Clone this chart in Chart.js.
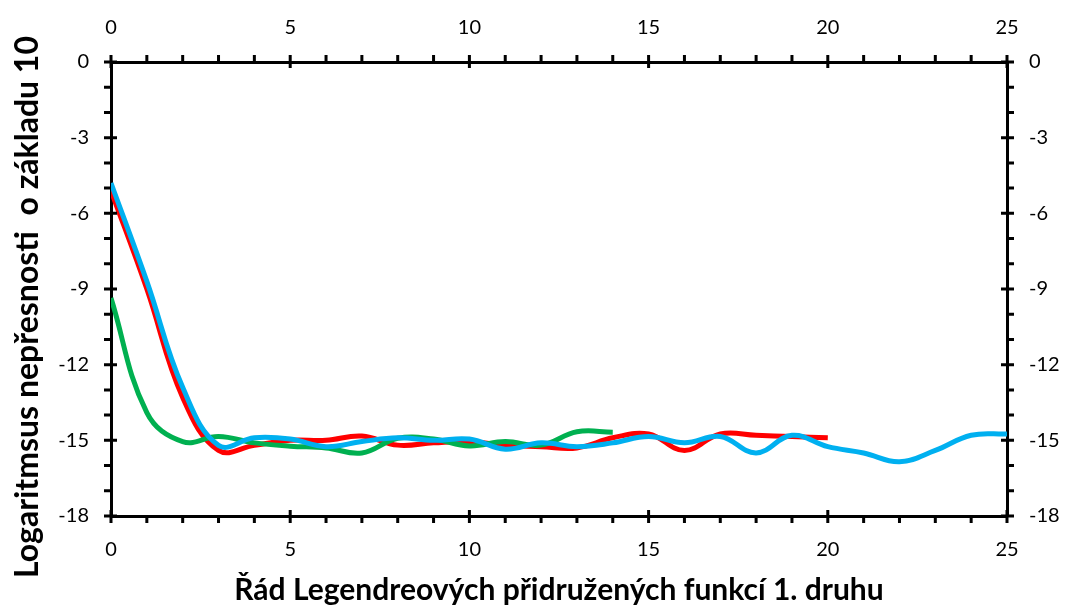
<!DOCTYPE html>
<html>
<head>
<meta charset="utf-8">
<script src="https://cdn.jsdelivr.net/npm/chart.js@4/dist/chart.umd.min.js"></script>
<style>
html,body{margin:0;padding:0;background:#fff;}
#wrap{position:relative;width:1070px;height:608px;}
</style>
</head>
<body>
<div id="wrap"><canvas id="c" width="1070" height="608"></canvas></div>
<script>
const xValues = [0,1,2,3,4,5,6,7,8,9,10,11,12,13,14,15,16,17,18,19,20,21,22,23,24,25];
const redValues = [-5.1,-9.0,-13.3,-15.4,-15.2,-15.0,-15.0,-14.83,-15.19,-15.1,-15.05,-15.2,-15.25,-15.3,-14.9,-14.75,-15.4,-14.75,-14.8,-14.85,-14.9];
const greenValues = [-9.36,-13.9,-15.05,-14.85,-15.1,-15.23,-15.3,-15.5,-14.92,-14.95,-15.22,-15.05,-15.19,-14.66,-14.68];
const blueValues = [-4.8,-8.7,-12.9,-15.2,-14.9,-14.95,-15.25,-15.05,-14.9,-15.0,-14.95,-15.35,-15.1,-15.25,-15.1,-14.85,-15.1,-14.85,-15.5,-14.8,-15.25,-15.5,-15.85,-15.4,-14.8,-14.75];
const xTitle = "Řád Legendreových přidružených funkcí 1. druhu";
const yTitle = "Logaritmsus nepřesnosti  o základu 10";

const toPts = (vals) => vals.map((v, i) => ({x: xValues[i], y: v}));
const FONT = "Lato, 'Open Sans', sans-serif";

const tickPlugin = {
  id: 'ticks',
  afterDraw(chart) {
    const ctx = chart.ctx;
    const a = chart.chartArea;
    const sx = chart.scales.x, sy = chart.scales.y;
    ctx.save();
    ctx.strokeStyle = '#000';
    ctx.lineWidth = 3;
    ctx.beginPath();
    for (let v = 0; v <= 25; v++) {
      const px = sx.getPixelForValue(v);
      const major = v % 5 === 0;
      ctx.moveTo(px, a.bottom + (major ? -6 : 0));
      ctx.lineTo(px, a.bottom + 7);
      ctx.moveTo(px, a.top + (major ? 6 : 0));
      ctx.lineTo(px, a.top - 7);
    }
    for (let v = -18; v <= 0; v++) {
      const py = sy.getPixelForValue(v);
      const major = v % 3 === 0;
      ctx.moveTo(a.left + (major ? 6 : 0), py);
      ctx.lineTo(a.left - 7, py);
      ctx.moveTo(a.right - (major ? 6 : 0), py);
      ctx.lineTo(a.right + 7, py);
    }
    ctx.stroke();
    // y-axis title
    ctx.translate(28, 307);
    ctx.rotate(-Math.PI / 2);
    ctx.fillStyle = '#000';
    ctx.font = "bold 32px " + FONT;
    ctx.textAlign = 'center';
    ctx.textBaseline = 'middle';
    ctx.fillText(yTitle, 0, 0);
    ctx.restore();
  }
};

const baseGrid = {display: true, drawOnChartArea: false, drawTicks: true, tickLength: 8, color: 'rgba(0,0,0,0)'};
const baseBorder = {display: true, color: '#000', width: 3};
const tickFont = {family: FONT, size: 20};

new Chart(document.getElementById('c'), {
  type: 'line',
  data: {
    datasets: [
      {label: 'blue', data: toPts(blueValues), borderColor: '#00B0F0', borderWidth: 5, pointRadius: 0, tension: 0.4, fill: false},
      {label: 'green', data: toPts(greenValues), borderColor: '#00B050', borderWidth: 5, pointRadius: 0, tension: 0.4, fill: false},
      {label: 'red', data: toPts(redValues), borderColor: '#FF0000', borderWidth: 5, pointRadius: 0, tension: 0.4, fill: false}
    ]
  },
  options: {
    responsive: false,
    animation: false,
    devicePixelRatio: 1,
    layout: {padding: 0},
    plugins: {legend: {display: false}, tooltip: {enabled: false}},
    scales: {
      x: {
        type: 'linear', position: 'bottom', min: 0, max: 25,
        ticks: {stepSize: 5, color: '#000', font: tickFont, padding: 14, maxRotation: 0},
        grid: baseGrid, border: baseBorder,
        title: {display: true, text: xTitle, color: '#000', font: {family: FONT, size: 30, weight: 'bold'}, padding: {top: 3, bottom: 0}},
        afterFit(s) { s.height = 92; }
      },
      x2: {
        type: 'linear', position: 'top', min: 0, max: 25,
        ticks: {stepSize: 5, color: '#000', font: tickFont, padding: 14, maxRotation: 0},
        grid: baseGrid, border: baseBorder,
        afterFit(s) { s.height = 62; }
      },
      y: {
        type: 'linear', position: 'left', min: -18, max: 0,
        ticks: {stepSize: 3, color: '#000', font: tickFont, padding: 14},
        grid: baseGrid, border: baseBorder,
        afterFit(s) { s.width = 111; }
      },
      y2: {
        type: 'linear', position: 'right', min: -18, max: 0,
        ticks: {stepSize: 3, color: '#000', font: tickFont, padding: 14},
        grid: baseGrid, border: baseBorder,
        afterFit(s) { s.width = 63; }
      }
    }
  },
  plugins: [tickPlugin]
});
</script>
</body>
</html>
